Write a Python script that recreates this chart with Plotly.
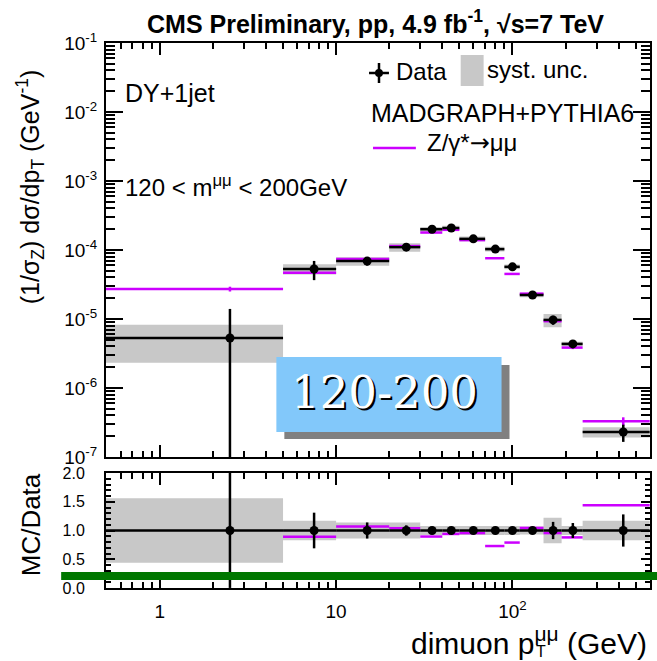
import plotly.graph_objects as go

# ---------------- data ----------------
bin_lo = [0, 5, 10, 20, 30, 40, 50, 70, 90, 110, 150, 190, 250]
bin_hi = [5, 10, 20, 30, 40, 50, 70, 90, 110, 150, 190, 250, 600]
bin_ctr = [2.5, 7.5, 15, 25, 35, 45, 60, 80, 100, 130, 170, 220, 425]
data_val = [5.3e-6, 5.3e-5, 6.9e-5, 1.1e-4, 2.0e-4, 2.08e-4, 1.45e-4,
            1.03e-4, 5.7e-5, 2.23e-5, 9.7e-6, 4.35e-6, 2.3e-7]
stat_up = [1.64, 0.31, 0.14, 0.09, 0.03, 0.03, 0.03, 0.03, 0.04, 0.04, 0.15, 0.13, 0.28]
stat_dn = [0.999, 0.31, 0.14, 0.09, 0.03, 0.03, 0.03, 0.03, 0.04, 0.04, 0.15, 0.13, 0.28]
syst_rel = [0.56, 0.17, 0.14, 0.14, 0.08, 0.08, 0.08, 0.08, 0.08, 0.07, 0.22, 0.08, 0.17]
mc_val = [2.72e-5, 4.7e-5, 7.4e-5, 1.14e-4, 1.79e-4, 1.96e-4, 1.39e-4,
          7.6e-5, 4.5e-5, 2.33e-5, 9.3e-6, 3.85e-6, 3.3e-7]
mc_stat = [0.08, 0.03, 0.02, 0.02, 0.01, 0.01, 0.01, 0.02, 0.02, 0.03, 0.04, 0.05, 0.14]
ratio_val = [5.1, 0.89, 1.07, 1.04, 0.895, 0.94, 0.955, 0.73, 0.79, 1.045, 0.955, 0.88, 1.44]

ytick_vals = [1e-7, 1e-6, 1e-5, 1e-4, 1e-3, 1e-2, 1e-1]
ytick_text = ["10<sup>-7</sup>", "10<sup>-6</sup>", "10<sup>-5</sup>", "10<sup>-4</sup>",
              "10<sup>-3</sup>", "10<sup>-2</sup>", "10<sup>-1</sup>"]
xtick_vals = [1, 10, 100]
xtick_text = ["1", "10", "10<sup>2</sup>"]
rtick_vals = [0, 0.5, 1.0, 1.5, 2.0]
rtick_text = ["0.0", "0.5", "1.0", "1.5", "2.0"]

# ---------------- style ----------------
MAG = "#cc00ff"
GRAY = "#c8c8c8"
FONT = "Liberation Sans"
X_FLOOR = 0.3  # drawing floor for the first bin on the log axis

W_, H_ = 657, 661
L, R, T, B = 106, 652, 43, 588
PW, PH = R - L, B - T
TOP_BOTTOM = 457   # pixel row of the top panel's lower frame
RAT_TOP = 473      # pixel row of the ratio panel's upper frame


def px(x):
    return (x - L) / PW


def py(y):
    return (B - y) / PH


fig = go.Figure()


def band(lo, hi, ctr_vals, rel, xa, ya):
    xs, ys = [], []
    for a, b, v, r in zip(lo, hi, ctr_vals, rel):
        a = max(a, X_FLOOR)
        xs += [a, b, b, a, a, None]
        ys += [v * (1 - r), v * (1 - r), v * (1 + r), v * (1 + r), v * (1 - r), None]
    fig.add_trace(go.Scatter(x=xs, y=ys, mode="lines", fill="toself", fillcolor=GRAY,
                             line=dict(width=0), hoverinfo="skip", showlegend=False,
                             xaxis=xa, yaxis=ya))


def steps(lo, hi, vals, xa, ya):
    xs, ys = [], []
    for a, b, v in zip(lo, hi, vals):
        a = max(a, X_FLOOR)
        xs += [a, b, None]
        ys += [v, v, None]
    fig.add_trace(go.Scatter(x=xs, y=ys, mode="lines", line=dict(color=MAG, width=2.5),
                             hoverinfo="skip", showlegend=False, xaxis=xa, yaxis=ya))


xerr_p = [h - c for h, c in zip(bin_hi, bin_ctr)]
xerr_m = [c - l for c, l in zip(bin_ctr, bin_lo)]

# ---- top panel ----
band(bin_lo, bin_hi, data_val, syst_rel, "x", "y")
steps(bin_lo, bin_hi, mc_val, "x", "y")
fig.add_trace(go.Scatter(
    x=bin_ctr, y=mc_val, mode="markers", marker=dict(size=1, color=MAG),
    error_y=dict(type="data", array=[v * r for v, r in zip(mc_val, mc_stat)],
                 color=MAG, thickness=2.5, width=0),
    showlegend=False, hoverinfo="skip", xaxis="x", yaxis="y"))
fig.add_trace(go.Scatter(
    x=bin_ctr, y=data_val, mode="markers", marker=dict(size=9, color="black"),
    error_x=dict(type="data", symmetric=False, array=xerr_p, arrayminus=xerr_m,
                 color="black", thickness=2.5, width=0),
    error_y=dict(type="data", symmetric=False,
                 array=[v * r for v, r in zip(data_val, stat_up)],
                 arrayminus=[v * r for v, r in zip(data_val, stat_dn)],
                 color="black", thickness=2.5, width=0),
    showlegend=False, xaxis="x", yaxis="y"))

# ---- ratio panel ----
ones = [1.0] * len(bin_ctr)
band(bin_lo, bin_hi, ones, syst_rel, "x2", "y2")
steps(bin_lo, bin_hi, ratio_val, "x2", "y2")
fig.add_trace(go.Scatter(
    x=bin_ctr, y=ones, mode="markers", marker=dict(size=9, color="black"),
    error_x=dict(type="data", symmetric=False, array=xerr_p, arrayminus=xerr_m,
                 color="black", thickness=2.5, width=0),
    error_y=dict(type="data", symmetric=False, array=stat_up, arrayminus=stat_dn,
                 color="black", thickness=2.5, width=0),
    showlegend=False, xaxis="x2", yaxis="y2"))

minor_log_x = [m * 10 ** e for e in range(-1, 3) for m in range(2, 10)]
minor_log_y = [m * 10 ** e for e in range(-8, 0) for m in range(2, 10)]

axis_common = dict(showline=True, linewidth=2, linecolor="black", mirror="allticks",
                   ticks="inside", tickwidth=2, tickcolor="black", showgrid=False,
                   zeroline=False)

fig.update_layout(
    width=W_, height=H_,
    margin=dict(l=L, r=W_ - R, t=T, b=H_ - B, pad=0),
    paper_bgcolor="white", plot_bgcolor="white",
    showlegend=False,
    font=dict(family=FONT, color="black"),
    xaxis=dict(type="log", range=[-0.305, 2.78], domain=[0, 1], anchor="y",
               tickmode="array", tickvals=xtick_vals, ticktext=xtick_text,
               showticklabels=False, ticklen=12,
               minor=dict(tickmode="array", tickvals=minor_log_x, ticks="inside",
                          ticklen=6, tickwidth=2, tickcolor="black"),
               **axis_common),
    yaxis=dict(type="log", range=[-7, -1], domain=[py(TOP_BOTTOM), 1], anchor="x",
               tickmode="array", tickvals=ytick_vals, ticktext=ytick_text,
               tickfont=dict(size=19), ticklen=17, ticklabelstandoff=3,
               minor=dict(tickmode="array", tickvals=minor_log_y, ticks="inside",
                          ticklen=9, tickwidth=2, tickcolor="black"),
               **axis_common),
    xaxis2=dict(type="log", range=[-0.305, 2.78], domain=[0, 1], anchor="y2",
                matches="x",
                tickmode="array", tickvals=xtick_vals, ticktext=xtick_text,
                tickfont=dict(size=19), ticklen=12, ticklabelstandoff=5,
                minor=dict(tickmode="array", tickvals=minor_log_x, ticks="inside",
                           ticklen=6, tickwidth=2, tickcolor="black"),
                **axis_common),
    yaxis2=dict(range=[0, 2], domain=[0, py(RAT_TOP)], anchor="x2",
                tickmode="array", tickvals=rtick_vals, ticktext=rtick_text,
                tickfont=dict(size=16), ticklen=9, ticklabelstandoff=16,
                minor=dict(dtick=0.1, ticks="inside", ticklen=5, tickwidth=2,
                           tickcolor="black"),
                **axis_common),
)

shapes = []
# green line in the ratio panel
shapes.append(dict(type="line", xref="paper", yref="y2", x0=px(61), x1=px(660),
                   y0=0.21, y1=0.21, line=dict(color="#007700", width=8), layer="above"))
# blue label box with shadow
shapes.append(dict(type="rect", xref="paper", yref="paper", x0=px(285), x1=px(511),
                   y0=py(439), y1=py(365), fillcolor="#808080", line=dict(width=0),
                   layer="above"))
shapes.append(dict(type="rect", xref="paper", yref="paper", x0=px(277), x1=px(503),
                   y0=py(432), y1=py(357), fillcolor="#82c8fa", line=dict(width=0),
                   layer="above"))
# legend: data marker
shapes.append(dict(type="line", xref="paper", yref="paper", x0=px(370), x1=px(390),
                   y0=py(73), y1=py(73), line=dict(color="black", width=2.5), layer="above"))
shapes.append(dict(type="line", xref="paper", yref="paper", x0=px(380), x1=px(380),
                   y0=py(63), y1=py(83), line=dict(color="black", width=2.5), layer="above"))
shapes.append(dict(type="circle", xref="paper", yref="paper", x0=px(376), x1=px(384),
                   y0=py(77), y1=py(69), fillcolor="black", line=dict(width=0), layer="above"))
# legend: syst box
shapes.append(dict(type="rect", xref="paper", yref="paper", x0=px(462), x1=px(485),
                   y0=py(86), y1=py(55), fillcolor=GRAY, line=dict(width=0), layer="above"))
# legend: MC line
shapes.append(dict(type="line", xref="paper", yref="paper", x0=px(374), x1=px(417),
                   y0=py(148), y1=py(148), line=dict(color=MAG, width=2.5), layer="above"))
fig.update_layout(shapes=shapes)


def ann(text, x, y, size, xanchor="left", yanchor="middle", **kw):
    d = dict(text=text, xref="paper", yref="paper", x=px(x), y=py(y), showarrow=False,
             xanchor=xanchor, yanchor=yanchor, font=dict(family=FONT, size=size, color="black"))
    d.update(kw)
    return d


annotations = [
    ann("<b>CMS Preliminary, pp, 4.9 fb<sup>-1</sup>, √s=7 TeV</b>", 376, 22, 25,
        xanchor="center"),
    ann("DY+1jet", 123, 93, 25),
    ann("120 &lt; m<sup>μμ</sup> &lt; 200GeV", 123, 186, 24),
    ann("Data", 395, 72, 24),
    ann("syst. unc.", 486, 70, 24),
    ann("MADGRAPH+PYTHIA6", 370, 113, 25),
    ann("Z/γ*<span style='font-family:DejaVu Sans'>→</span>μμ", 426, 143, 24),
    ann("(1/σ<sub>Z</sub>) dσ/dp<sub>T</sub> (GeV<sup>-1</sup>)", 30, 187, 25,
        xanchor="center", textangle=-90),
    ann("MC/Data", 31, 525, 26, xanchor="center", textangle=-90),
    ann("dimuon p<sup>μμ</sup> (GeV)", 651, 641, 30, xanchor="right"),
    ann("T", 543, 651, 16, xanchor="center"),
    dict(text="120-200", xref="paper", yref="paper", x=px(386), y=py(392),
         showarrow=False, xanchor="center", yanchor="middle",
         font=dict(family="DejaVu Serif", size=45, color="white",
                   shadow="2px 2px 0px black")),
]
fig.update_layout(annotations=annotations)

fig.write_html("out.html", config={"displayModeBar": False},
               post_script="document.body.style.margin='0';")
